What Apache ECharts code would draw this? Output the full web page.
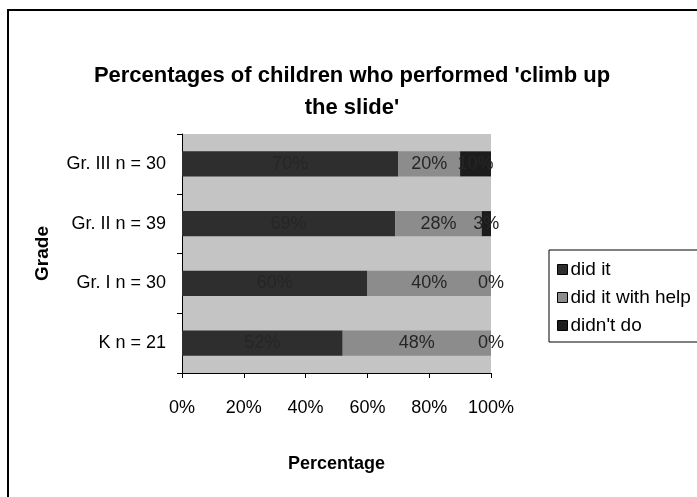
<!DOCTYPE html>
<html>
<head>
<meta charset="utf-8">
<script src="https://cdn.jsdelivr.net/npm/echarts@6/dist/echarts.min.js"></script>
<style>
  html, body { margin: 0; padding: 0; background: #fff; }
  #chart { width: 697px; height: 497px; }
</style>
</head>
<body>
<div id="chart"></div>
<script>
// Grades (bottom to top) and share of children per outcome, in percent
const grades = ['K n = 21', 'Gr. I n = 30', 'Gr. II n = 39', 'Gr. III n = 30'];
const didIt = [52, 60, 69, 70];
const didItWithHelp = [48, 40, 28, 20];
const didntDo = [0, 0, 3, 10];
const xTicks = [0, 20, 40, 60, 80, 100];

const FONT = '"Liberation Sans", Arial, sans-serif';

const chart = echarts.init(document.getElementById('chart'));

const labelStyle = {
  show: true,
  position: 'inside',
  formatter: p => p.value + '%',
  fontFamily: FONT,
  fontSize: 18,
  color: '#262626'
};

function series(name, data, color) {
  return {
    name: name,
    type: 'bar',
    stack: 'total',
    data: data,
    barWidth: '42%',
    itemStyle: { color: color },
    label: labelStyle,
    emphasis: { disabled: true }
  };
}

chart.setOption({
  animation: false,
  backgroundColor: '#ffffff',
  title: {
    text: "Percentages of children who performed 'climb up\nthe slide'",
    left: 347,
    top: 55,
    textAlign: 'center',
    textStyle: {
      fontFamily: FONT,
      fontSize: 22,
      fontWeight: 'bold',
      color: '#000',
      lineHeight: 32
    }
  },
  legend: {
    orient: 'vertical',
    left: 552,
    top: 255,
    itemWidth: 10,
    itemHeight: 10,
    itemGap: 9,
    icon: 'rect',
    data: ['did it', 'did it with help', "didn't do"],
    textStyle: { fontFamily: FONT, fontSize: 19, color: '#000', padding: [0, 0, 0, -2] },
    itemStyle: { borderColor: '#000', borderWidth: 1 }
  },
  grid: { left: 182, right: 206, top: 134, bottom: 124 },
  xAxis: {
    type: 'value',
    min: 0,
    max: 100,
    interval: 20,
    name: 'Percentage',
    nameLocation: 'middle',
    nameGap: 82,
    nameTextStyle: { fontFamily: FONT, fontSize: 18, fontWeight: 'bold', color: '#000' },
    axisLine: { show: true, lineStyle: { color: '#000', width: 1 } },
    axisTick: { show: true, length: 5, lineStyle: { color: '#000' } },
    splitLine: { show: false },
    axisLabel: {
      fontFamily: FONT,
      fontSize: 18,
      color: '#000',
      margin: 26,
      formatter: v => xTicks.indexOf(v) >= 0 ? v + '%' : ''
    }
  },
  yAxis: {
    type: 'category',
    data: grades,
    name: 'Grade',
    nameLocation: 'middle',
    nameRotate: 90,
    nameGap: 130,
    nameTextStyle: { fontFamily: FONT, fontSize: 19, fontWeight: 'bold', color: '#000' },
    axisLine: { show: true, lineStyle: { color: '#000', width: 1 } },
    axisTick: { show: true, length: 5, lineStyle: { color: '#000' } },
    axisLabel: { fontFamily: FONT, fontSize: 18, color: '#000', margin: 16 },
    splitArea: { show: true, areaStyle: { color: ['#c4c4c4', '#c4c4c4'] } }
  },
  series: [
    series('did it', didIt, '#2e2e2e'),
    series('did it with help', didItWithHelp, '#8c8c8c'),
    series("didn't do", didntDo, '#1c1c1c')
  ],
  graphic: [
    {
      type: 'rect',
      shape: { x: 8, y: 10, width: 720, height: 520 },
      style: { fill: 'none', stroke: '#000', lineWidth: 2 },
      silent: true
    },
    {
      type: 'rect',
      shape: { x: 549, y: 250, width: 200, height: 92 },
      style: { fill: 'none', stroke: '#000', lineWidth: 1 },
      silent: true
    }
  ]
});
</script>
</body>
</html>
